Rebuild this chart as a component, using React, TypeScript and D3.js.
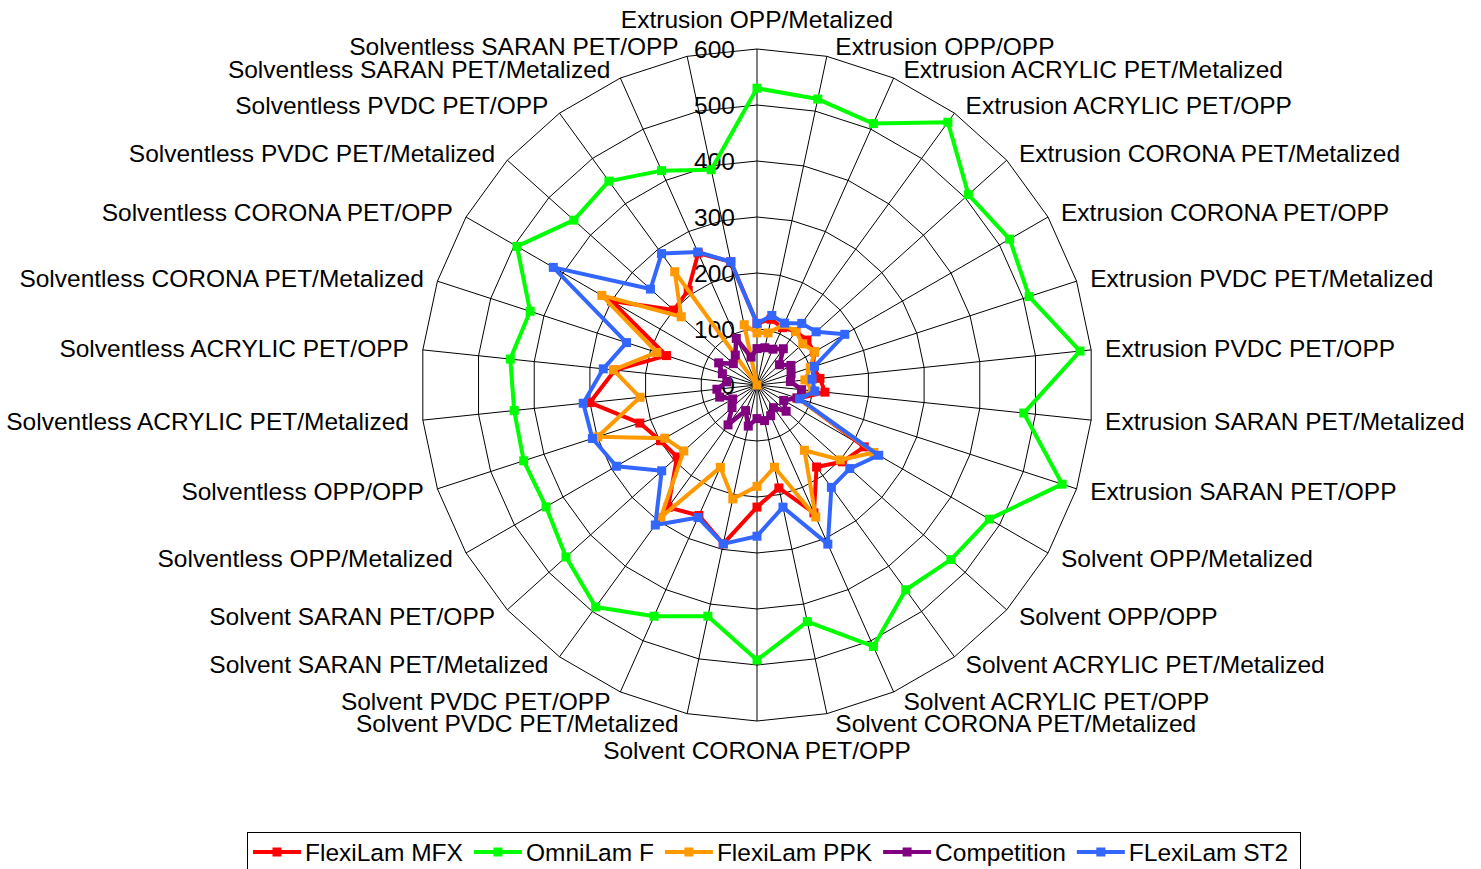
import React, { useEffect, useRef } from 'react';
import * as d3 from 'd3';

const categories = [
  'Extrusion OPP/Metalized', 'Extrusion OPP/OPP', 'Extrusion ACRYLIC PET/Metalized', 'Extrusion ACRYLIC PET/OPP',
  'Extrusion CORONA PET/Metalized', 'Extrusion CORONA PET/OPP', 'Extrusion PVDC PET/Metalized', 'Extrusion PVDC PET/OPP',
  'Extrusion SARAN PET/Metalized', 'Extrusion SARAN PET/OPP', 'Solvent OPP/Metalized', 'Solvent OPP/OPP',
  'Solvent ACRYLIC PET/Metalized', 'Solvent ACRYLIC PET/OPP', 'Solvent CORONA PET/Metalized', 'Solvent CORONA PET/OPP',
  'Solvent PVDC PET/Metalized', 'Solvent PVDC PET/OPP', 'Solvent SARAN PET/Metalized', 'Solvent SARAN PET/OPP',
  'Solventless OPP/Metalized', 'Solventless OPP/OPP', 'Solventless ACRYLIC PET/Metalized', 'Solventless ACRYLIC PET/OPP',
  'Solventless CORONA PET/Metalized', 'Solventless CORONA PET/OPP', 'Solventless PVDC PET/Metalized', 'Solventless PVDC PET/OPP',
  'Solventless SARAN PET/Metalized', 'Solventless SARAN PET/OPP',
];

const flexiLamMFX = [110, 120, 112, 118, 120, 118, 105, 113, 122, 78, 221, 205, 181, 250, 188, 218, 290, 255, 270, 192, 199, 220, 300, 255, 170, 300, 200, 209, 258, 225];
const omniLamF = [530, 522, 511, 580, 508, 521, 511, 580, 479, 573, 479, 466, 452, 511, 432, 491, 422, 452, 490, 459, 435, 438, 436, 443, 426, 495, 440, 450, 419, 393];
const flexiLamPPK = [93, 95, 118, 118, 110, 119, 100, 86, 100, 75, 241, 200, 144, 258, 150, 181, 208, 161, 292, 176, 190, 299, 210, 258, 188, 320, 182, 250, 0, 110];
const competition = [65, 68, 70, 80, 54, 70, 64, 60, 80, 75, 55, 70, 50, 60, 65, 60, 75, 50, 88, 60, 50, 70, 72, 54, 65, 79, 57, 66, 91, 51];
const flexiLamST2 = [110, 127, 121, 136, 142, 181, 108, 99, 104, 80, 251, 223, 226, 311, 223, 270, 290, 259, 309, 229, 290, 309, 312, 276, 245, 420, 256, 290, 260, 225];

const tickValues = [0, 100, 200, 300, 400, 500, 600];
const seriesNames = ['FlexiLam MFX', 'OmniLam F', 'FlexiLam PPK', 'Competition', 'FLexiLam ST2'];
const seriesColors = ['#FF0000', '#00FF00', '#FF9900', '#800080', '#3366FF'];
const seriesValues = [flexiLamMFX, omniLamF, flexiLamPPK, competition, flexiLamST2];

const FONT = '"Liberation Sans", Arial, sans-serif';
const FS = 24.5;

export default function App() {
  const ref = useRef<SVGSVGElement>(null);

  useEffect(() => {
    const svg = d3.select(ref.current);
    svg.selectAll('*').remove();
    const cx = 757, cy = 385, R = 336;
    const n = categories.length;
    const rScale = d3.scaleLinear().domain([0, 600]).range([0, R]);
    const aScale = d3.scaleLinear().domain([0, n]).range([0, 2 * Math.PI]);
    const idx = d3.range(n);

    const g = svg.append('g').attr('transform', `translate(${cx},${cy})`);

    // rings
    const ring = d3.lineRadial<number>().angle((i) => aScale(i)).curve(d3.curveLinearClosed);
    tickValues.filter((t) => t > 0).forEach((t) => {
      g.append('path')
        .attr('d', ring.radius(() => rScale(t))(idx) as string)
        .attr('fill', 'none').attr('stroke', '#000').attr('stroke-width', 1);
    });
    // spokes
    idx.forEach((i) => {
      const a = aScale(i);
      g.append('line')
        .attr('x1', 0).attr('y1', 0)
        .attr('x2', rScale(600) * Math.sin(a)).attr('y2', -rScale(600) * Math.cos(a))
        .attr('stroke', '#000').attr('stroke-width', 1);
    });

    // tick labels
    tickValues.forEach((t) => {
      g.append('text')
        .attr('x', -22).attr('y', -rScale(t)).attr('dy', '0.35em')
        .attr('text-anchor', 'end')
        .attr('font-family', FONT).attr('font-size', FS).attr('fill', '#000')
        .text(String(t));
    });

    // category labels
    categories.forEach((c, i) => {
      const a = aScale(i);
      const s = Math.sin(a), co = Math.cos(a);
      const px = rScale(600) * s, py = -rScale(600) * co;
      let anchor = 'middle';
      let x = px, y = py;
      if (Math.abs(s) < 1e-6) {
        y = py + (co > 0 ? -30 : 29);
      } else {
        anchor = s > 0 ? 'start' : 'end';
        x = px + Math.sign(s) * (7 + 7 * Math.abs(s));
        y = py - 10 * co;
      }
      g.append('text')
        .attr('x', x).attr('y', y).attr('dy', '0.35em')
        .attr('text-anchor', anchor)
        .attr('font-family', FONT).attr('font-size', FS).attr('fill', '#000')
        .text(c);
    });

    // series
    seriesValues.forEach((vals, si) => {
      const line = d3.lineRadial<number>()
        .angle((i) => aScale(i))
        .radius((i) => rScale(vals[i]))
        .curve(d3.curveLinearClosed);
      g.append('path')
        .attr('d', line(idx) as string)
        .attr('fill', 'none').attr('stroke', seriesColors[si]).attr('stroke-width', si === 3 ? 4.5 : 4)
        .attr('stroke-linejoin', 'round');
      g.selectAll(null).data(idx).enter().append('rect')
        .attr('x', (i) => rScale(vals[i]) * Math.sin(aScale(i)) - 4.5)
        .attr('y', (i) => -rScale(vals[i]) * Math.cos(aScale(i)) - 4.5)
        .attr('width', 9).attr('height', 9)
        .attr('fill', seriesColors[si]);
    });

    // legend
    const lg = svg.append('g');
    lg.append('rect')
      .attr('x', 247.5).attr('y', 832.5).attr('width', 1053).attr('height', 44)
      .attr('fill', '#fff').attr('stroke', '#000').attr('stroke-width', 1);
    let x = 253;
    const ly = 852;
    seriesNames.forEach((name, si) => {
      lg.append('line').attr('x1', x).attr('x2', x + 48).attr('y1', ly).attr('y2', ly)
        .attr('stroke', seriesColors[si]).attr('stroke-width', 4);
      lg.append('rect').attr('x', x + 24 - 4.5).attr('y', ly - 4.5).attr('width', 9).attr('height', 9)
        .attr('fill', seriesColors[si]);
      const t = lg.append('text')
        .attr('x', x + 52).attr('y', ly).attr('dy', '0.35em')
        .attr('font-family', FONT).attr('font-size', FS).attr('fill', '#000')
        .text(name);
      const w = (t.node() as SVGTextElement).getComputedTextLength();
      x = x + 52 + w + 11;
    });
  }, []);

  return (
    <svg
      ref={ref}
      width={1481}
      height={869}
      style={{ position: 'absolute', left: 0, top: 0, background: '#fff' }}
    />
  );
}
